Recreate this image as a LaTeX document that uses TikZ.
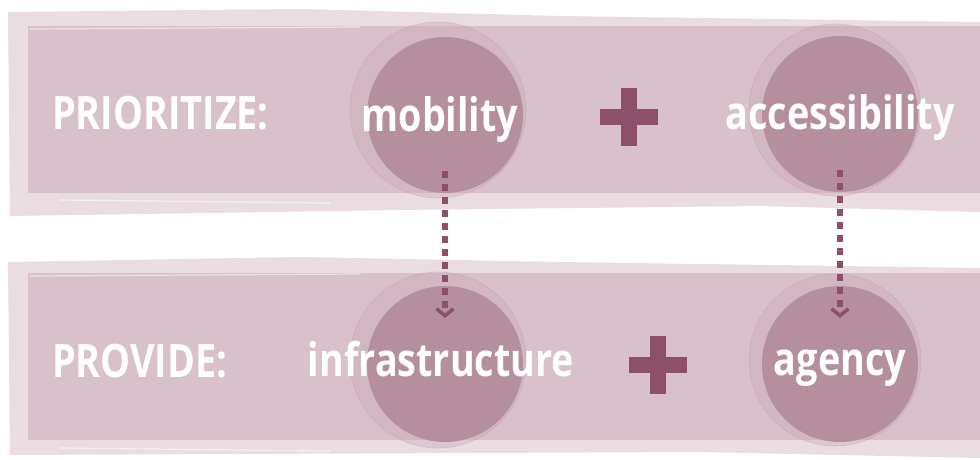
\documentclass[tikz,border=0pt]{standalone}
\usepackage{fontspec}
\newfontfamily\condfont[FakeStretch=0.82]{Open Sans}
\usetikzlibrary{arrows.meta}
\definecolor{bandlight}{HTML}{EADDE2}
\definecolor{band}{HTML}{D8C1CA}
\definecolor{disc}{HTML}{B58F9E}
\definecolor{halo}{HTML}{C9A9B6}
\definecolor{accent}{HTML}{8D4F69}
\tikzset{
  brush/.style={fill=bandlight},
  strip/.style={fill=band},
  streak/.style={draw=white, opacity=0.55, line width=1.2pt, line cap=round},
  haloring/.style={fill=halo, fill opacity=0.4, draw=disc, draw opacity=0.3, line width=0.6pt},
  discnode/.style={circle, fill=disc, minimum size=156pt, inner sep=0pt},
  word/.style={text=white, font=\condfont\bfseries\fontsize{46}{46}\selectfont, inner sep=0pt, anchor=base},
  heading/.style={word, anchor=base west},
  plusbar/.style={fill=accent},
  link/.style={draw=accent, line width=5.5pt, dash pattern=on 7pt off 6pt,
    -{Straight Barb[length=7pt, width=17pt, line width=3.5pt]}},
}
\begin{document}
\begin{tikzpicture}[x=1pt, y=-1pt]
\useasboundingbox (0,0) rectangle (980,460);
\fill[white] (0,0) rectangle (980,460);

% upper band: brushed underlay and solid strip
\path[brush] (8,12) -- (300,9) -- (560,16) -- (980,22) -- (980,212) -- (760,206) -- (400,210) -- (10,216) -- cycle;
\path[strip] (28,26) rectangle (980,193);
\draw[streak] (60,200) -- (330,203);
\draw[streak] (560,5) -- (770,8);
\draw[streak] (30,29) -- (360,27);

% lower band
\path[brush] (8,262) -- (300,257) -- (560,262) -- (980,268) -- (980,458) -- (700,452) -- (10,455) -- cycle;
\path[strip] (28,273) rectangle (980,440);
\draw[streak] (340,244) -- (470,245);
\draw[streak] (550,248) -- (770,254);
\draw[streak] (60,448) -- (330,451);
\draw[streak] (30,276) -- (360,274);

% soft halos behind the discs
\path[haloring] (438,110) circle[radius=88];
\path[haloring] (835,110) circle[radius=86];
\path[haloring] (438,360) circle[radius=88];
\path[haloring] (835,360) circle[radius=86];

% discs with their words
\node[discnode] (mob) at (445,115) {};
\node[discnode] (acc) at (840,114) {};
\node[discnode] (inf) at (445,364) {};
\node[discnode] (agy) at (840,364) {};

\node[word] (mobt) at (440,131) {mobility};
\node[word] (acct) at (840,129) {accessibility};
\node[word] (inft) at (441,376) {infrastructure};
\node[word] (agyt) at (840,375) {agency};

\node[heading] (prio) at (52,129) {PRIORITIZE:};
\node[heading] (prov) at (52,377) {PROVIDE:};

% plus signs
\node[inner sep=0pt, minimum size=0pt] (plus1) at (629,117) {};
\node[inner sep=0pt, minimum size=0pt] (plus2) at (658,365) {};
\fill[plusbar] ([xshift=-29pt,yshift=-8pt]plus1.center) rectangle ([xshift=29pt,yshift=8pt]plus1.center);
\fill[plusbar] ([xshift=-8pt,yshift=-29pt]plus1.center) rectangle ([xshift=8pt,yshift=29pt]plus1.center);
\fill[plusbar] ([xshift=-29pt,yshift=-8pt]plus2.center) rectangle ([xshift=29pt,yshift=8pt]plus2.center);
\fill[plusbar] ([xshift=-8pt,yshift=-29pt]plus2.center) rectangle ([xshift=8pt,yshift=29pt]plus2.center);

% dashed links between the rows
\draw[link, shorten <=56pt, shorten >=46pt] (mob.center) -- (inf.center);
\draw[link, shorten <=56pt, shorten >=46pt] (acc.center) -- (agy.center);
\end{tikzpicture}
\end{document}
